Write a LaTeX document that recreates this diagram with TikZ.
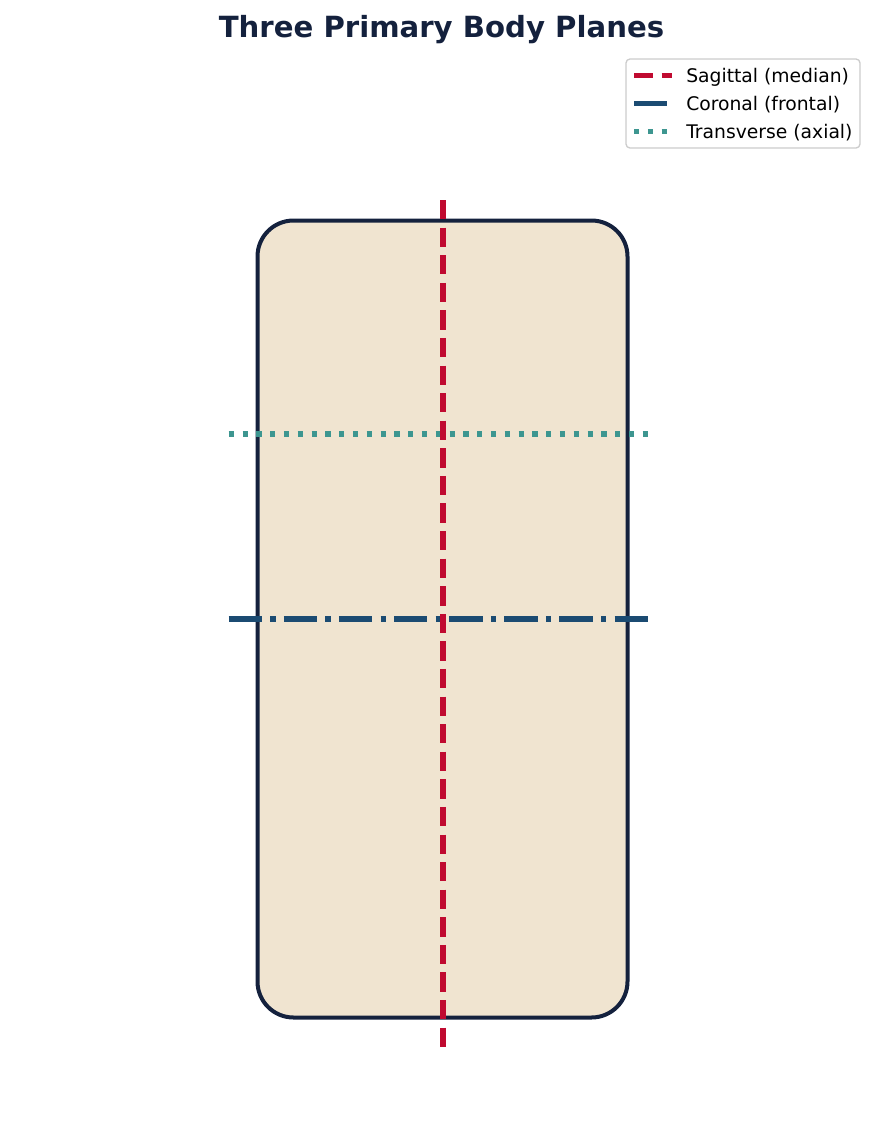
\documentclass[tikz,border=0pt]{standalone}
\usepackage{fontspec}
\setmainfont{DejaVu Sans}
\definecolor{navy}{HTML}{14213D}
\definecolor{bodyfill}{HTML}{F0E4D0}
\definecolor{sagred}{HTML}{C00A30}
\definecolor{corblue}{HTML}{1B4B72}
\definecolor{transteal}{HTML}{3D9690}
\definecolor{legframe}{HTML}{CCCCCC}
\tikzset{
  sagline/.style={draw=sagred, line width=3.9pt, dash pattern=on 14.47pt off 6.22pt},
  corline/.style={draw=corblue, line width=3.9pt, dash pattern=on 25pt off 6.22pt on 3.9pt off 6.22pt},
  transline/.style={draw=transteal, line width=3.9pt, dash pattern=on 3.9pt off 6.45pt},
  legtext/.style={anchor=base west, inner sep=0pt, font=\fontsize{14.06pt}{16pt}\selectfont, text=black},
  titletext/.style={anchor=base, inner sep=0pt, font=\fontsize{21.875pt}{24pt}\selectfont\bfseries, text=navy},
  bodybox/.style={draw=navy, fill=bodyfill, line width=3pt, rounded corners=27pt},
  legbox/.style={draw=legframe, fill=white, line width=1pt, rounded corners=3pt}
}
\begin{document}
\begin{tikzpicture}[x=0.75pt,y=-0.75pt]
\useasboundingbox (0,0) rectangle (885,1133);
% title
\node[titletext] (title) at (441.5,37.7) {Three Primary Body Planes};
% body
\draw[bodybox] (257.5,220.5) rectangle (627.5,1017.5);
% planes
\coordinate (sagtop) at (443,200);
\coordinate (sagbot) at (443,1047.3);
\coordinate (transL) at (228.7,434);
\coordinate (transR) at (649.3,434);
\coordinate (corL) at (228.7,619);
\coordinate (corR) at (649.3,619);
\draw[transline] (transL) -- (transR);
\draw[corline] (corL) -- (corR);
\draw[sagline] (sagtop) -- (sagbot);
% legend
\draw[legbox] (626,59) rectangle (860,148);
\coordinate (l1a) at (634,75.5);
\coordinate (l1b) at (671.5,75.5);
\coordinate (l2a) at (634,103.5);
\coordinate (l2b) at (671.5,103.5);
\coordinate (l3a) at (634,131.5);
\coordinate (l3b) at (671.5,131.5);
\draw[sagline] (l1a) -- (l1b);
\draw[corline] (l2a) -- (l2b);
\draw[transline] (l3a) -- (l3b);
\node[legtext] (t1) at (686,82) {Sagittal (median)};
\node[legtext] (t2) at (686,110) {Coronal (frontal)};
\node[legtext] (t3) at (686,138) {Transverse (axial)};
\end{tikzpicture}
\end{document}
